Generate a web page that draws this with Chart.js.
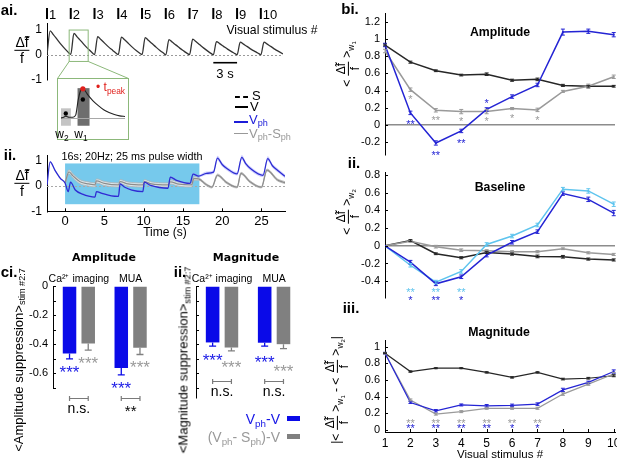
<!DOCTYPE html>
<html>
<head>
<meta charset="utf-8">
<script src="https://cdn.jsdelivr.net/npm/chart.js@4.4.1/dist/chart.umd.min.js"></script>
<style>
  body { margin: 0; background: #fff; }
  #fig { position: relative; width: 617px; height: 460px; overflow: hidden; font-family: 'Liberation Sans', Arial, sans-serif; color: #000; }
  #fig canvas { position: absolute; }
  .t { position: absolute; white-space: nowrap; line-height: 1; transform: translate(-50%, -50%); }
  .l { position: absolute; white-space: nowrap; line-height: 1; transform: translate(0, -50%); }
  .pl { font-weight: bold; font-size: 15px; }
  .ti { font-weight: bold; font-size: 12.3px; }
  .tc { font-family: 'DejaVu Sans', sans-serif; font-weight: bold; font-size: 11px; }
  sub { font-size: 70%; vertical-align: -0.3em; line-height: 0; }
  .frac { display: inline-flex; flex-direction: column; align-items: center; vertical-align: middle; line-height: 1.05; margin: 0 1px; }
  .frac > span:first-child { border-bottom: 1px solid #000; padding: 0 1px; }
  .ln { position: absolute; height: 0; }
  .box { position: absolute; }
</style>
</head>
<body>
<div id="fig">
  <canvas id="cAi" width="340" height="92" style="left:0;top:0"></canvas>
  <canvas id="cInset" width="72" height="62" style="left:57px;top:78px"></canvas>
  <canvas id="cAii" width="300" height="100" style="left:0;top:140px"></canvas>
  <canvas id="cCi" width="170" height="160" style="left:0;top:268px"></canvas>
  <canvas id="cCii" width="165" height="160" style="left:150px;top:268px"></canvas>
  <canvas id="cBi" width="290" height="167" style="left:340px;top:0"></canvas>
  <canvas id="cBii" width="290" height="150" style="left:340px;top:160px"></canvas>
  <canvas id="cBiii" width="290" height="155" style="left:340px;top:305px"></canvas>

  <!-- panel letters -->
  <div class="t pl" style="left:9px;top:9px">ai.</div>
  <div class="t pl" style="left:10px;top:154px">ii.</div>
  <div class="t pl" style="left:9px;top:271px">ci.</div>
  <div class="t pl" style="left:180px;top:271px">ii.</div>
  <div class="t pl" style="left:350px;top:8px">bi.</div>
  <div class="t pl" style="left:354px;top:162px">ii.</div>
  <div class="t pl" style="left:351px;top:307px">iii.</div>

  <!-- a -->
  <div class="t" style="left:22px;top:50px;font-size:14px"><span class="frac"><span>&#916;&#771;f</span><span>f</span></span></div>
  <div class="t" style="left:22px;top:183px;font-size:14px"><span class="frac"><span>&#916;&#771;f</span><span>f</span></span></div>
  <div class="t" style="left:272px;top:30px;font-size:12.2px">Visual stimulus #</div>
  <div class="t" style="left:225px;top:73px;font-size:13px">3 s</div>
  <div class="t" style="left:62px;top:134px;font-size:12px">w<sub>2</sub></div>
  <div class="t" style="left:81px;top:134px;font-size:12px">w<sub>1</sub></div>
  <div class="l" style="left:96px;top:87px;font-size:12px;color:#e0201c">&bull; t<sub>peak</sub></div>

  <div class="ln" style="left:235px;top:96px;width:13px;border-top:2px dashed #000"></div>
  <div class="l" style="left:252px;top:95px;font-size:13px">S</div>
  <div class="ln" style="left:235px;top:106px;width:13px;border-top:2px solid #000"></div>
  <div class="l" style="left:250px;top:106px;font-size:13px">V</div>
  <div class="ln" style="left:234px;top:121px;width:14px;border-top:2px solid #1c1cd8"></div>
  <div class="l" style="left:249px;top:119px;font-size:13px;color:#1c1cd8">V<sub>ph</sub></div>
  <div class="ln" style="left:234px;top:133px;width:14px;border-top:1.5px solid #999"></div>
  <div class="l" style="left:249px;top:133px;font-size:13px;color:#999">V<sub>ph</sub>-S<sub>ph</sub></div>

  <div class="t" style="left:132px;top:156px;font-size:10.8px">16s; 20Hz; 25 ms pulse width</div>
  <div class="t" style="left:165px;top:232px;font-size:12px">Time (s)</div>

  <!-- c -->
  <div class="t tc" style="left:104px;top:257px">Amplitude</div>
  <div class="t tc" style="left:246px;top:257px">Magnitude</div>
  <div class="t" style="left:18px;top:360px;font-size:13px;transform:translate(-50%,-50%) rotate(-90deg)">&lt;Amplitude suppression&gt;<sub>stim #2:7</sub></div>
  <div class="t" style="left:183px;top:360px;font-size:13px;transform:translate(-50%,-50%) rotate(-90deg)">&lt;Magnitude suppression&gt;<sub>stim #2:7</sub></div>
  <div class="l" style="right:337px;top:419px;font-size:14px;color:#1515e6">V<sub>ph</sub>-V</div>
  <div class="box" style="left:287px;top:416px;width:13px;height:5px;background:#0a0ae8"></div>
  <div class="l" style="right:337px;top:437px;font-size:14px;color:#999">(V<sub>ph</sub>- S<sub>ph</sub>)-V</div>
  <div class="box" style="left:287px;top:434px;width:13px;height:5px;background:#808080"></div>

  <!-- b -->
  <div class="t ti" style="left:500px;top:32px">Amplitude</div>
  <div class="t ti" style="left:500px;top:187px">Baseline</div>
  <div class="t ti" style="left:499px;top:332px">Magnitude</div>
  <div class="t" style="left:348px;top:64px;font-size:12px;transform:translate(-50%,-50%) rotate(-90deg)">&lt; <span class="frac"><span>&#916;&#771;f</span><span>f</span></span> &gt;<sub>w<sub>1</sub></sub></div>
  <div class="t" style="left:348px;top:212px;font-size:12px;transform:translate(-50%,-50%) rotate(-90deg)">&lt; <span class="frac"><span>&#916;&#771;f</span><span>f</span></span> &gt;<sub>w<sub>2</sub></sub></div>
  <div class="t" style="left:337px;top:390px;font-size:12px;transform:translate(-50%,-50%) rotate(-90deg)">|&lt; <span class="frac"><span>&#916;&#771;f</span><span>f</span></span> &gt;<sub>w<sub>1</sub></sub> - &lt; <span class="frac"><span>&#916;&#771;f</span><span>f</span></span> &gt;<sub>w<sub>2</sub></sub>|</div>
  <div class="t" style="left:500px;top:455px;font-size:11.5px">Visual stimulus #</div>
</div>

<script>
// ---- data: visual stimulus responses (b panels) ----
const stimNo = [1, 2, 3, 4, 5, 6, 7, 8, 9, 10];

const ampV       = [0.93, 0.73, 0.63, 0.58, 0.59, 0.52, 0.53, 0.46, 0.45, 0.45];
const ampVErr    = [0.01, 0.012, 0.01, 0.01, 0.015, 0.012, 0.015, 0.012, 0.01, 0.01];
const ampVph     = [0.93, 0.14, -0.21, -0.07, 0.18, 0.33, 0.465, 1.08, 1.09, 1.05];
const ampVphErr  = [0.02, 0.02, 0.025, 0.02, 0.02, 0.02, 0.02, 0.035, 0.025, 0.025];
const ampDiff    = [0.86, 0.41, 0.17, 0.155, 0.155, 0.19, 0.175, 0.39, 0.45, 0.56];
const ampDiffErr = [0.02, 0.02, 0.02, 0.025, 0.025, 0.012, 0.02, 0.012, 0.025, 0.02];
const ampVphStars  = ['', '**', '**', '**', '*', '', '', '', '', ''];
const ampDiffStars = ['', '*', '**', '*', '*', '*', '*', '', '', ''];

const baseV        = [0, 0.06, -0.09, -0.135, -0.075, -0.094, -0.12, -0.124, -0.15, -0.16];
const baseVErr     = [0, 0.01, 0.01, 0.012, 0.012, 0.012, 0.015, 0.015, 0.012, 0.012];
const baseDiff     = [0, 0.05, -0.01, -0.05, -0.056, -0.067, -0.067, -0.033, -0.079, -0.098];
const baseDiffErr  = [0, 0.01, 0.015, 0.015, 0.012, 0.012, 0.012, 0.01, 0.012, 0.012];
const baseVph      = [0, -0.185, -0.43, -0.35, -0.105, 0.04, 0.16, 0.59, 0.525, 0.37];
const baseVphErr   = [0, 0.02, 0.02, 0.02, 0.02, 0.02, 0.02, 0.02, 0.025, 0.03];
const baseVphL     = [0, -0.22, -0.41, -0.29, 0.015, 0.11, 0.235, 0.64, 0.62, 0.47];
const baseVphLErr  = [0, 0.02, 0.02, 0.02, 0.02, 0.02, 0.02, 0.02, 0.025, 0.025];
const baseVphStars  = ['', '*', '**', '*', '', '', '', '', '', ''];
const baseVphLStars = ['', '**', '**', '**', '', '', '', '', '', ''];

const magV        = [0.92, 0.70, 0.74, 0.74, 0.69, 0.63, 0.69, 0.61, 0.62, 0.65];
const magVErr     = [0.005, 0.008, 0.006, 0.006, 0.008, 0.008, 0.008, 0.01, 0.01, 0.012];
const magVph      = [0.92, 0.33, 0.23, 0.30, 0.29, 0.295, 0.31, 0.48, 0.57, 0.70];
const magVphErr   = [0.01, 0.012, 0.015, 0.012, 0.015, 0.015, 0.015, 0.02, 0.015, 0.02];
const magDiff     = [0.92, 0.36, 0.19, 0.22, 0.26, 0.26, 0.26, 0.43, 0.55, 0.67];
const magDiffErr  = [0.01, 0.012, 0.012, 0.012, 0.012, 0.012, 0.012, 0.015, 0.015, 0.02];
const magVphStars  = ['', '**', '**', '**', '**', '*', '*', '', '', ''];
const magDiffStars = ['', '**', '**', '**', '**', '**', '**', '', '', ''];

const biTicks   = [-0.2, 0, 0.2, 0.4, 0.6, 0.8, 1, 1.2];
const biiTicks  = [-0.4, -0.2, 0, 0.2, 0.4, 0.6, 0.8];
const biiiTicks = [0, 0.2, 0.4, 0.6, 0.8, 1];

// ---- data: suppression bars (c panels) ----
const barGroups     = ['Ca\u00B2\u207A imaging', 'MUA'];
const ampSupVph     = [-0.464, -0.563];
const ampSupVphErr  = [0.036, 0.047];
const ampSupDiff    = [-0.395, -0.423];
const ampSupDiffErr = [0.045, 0.047];
const magSupVph     = [-0.388, -0.39];
const magSupVphErr  = [0.026, 0.024];
const magSupDiff    = [-0.423, -0.40];
const magSupDiffErr = [0.023, 0.03];
const barStars = ['***', '***'];
const ampSig   = ['n.s.', '**'];
const magSig   = ['n.s.', 'n.s.'];
const cTicks   = [0, -0.1, -0.2, -0.3, -0.4, -0.5, -0.6, -0.7];
const cLabels  = [0, -0.2, -0.4, -0.6];

// ---- data: example traces (a panels) ----
const stimTimes = [0, 3, 6, 9, 12, 15, 18, 21, 24, 27];
const aTicks = [-1, 0, 1];
const aiTrace = [
  [0, 0.00], [0.4, 0.95], [0.8, 0.80], [1.3, 0.60], [1.8, 0.40], [2.3, 0.22], [2.8, 0.06],
  [3, 0.01], [3.4, 0.85], [3.8, 0.71], [4.3, 0.54], [4.8, 0.36], [5.3, 0.20], [5.8, 0.05],
  [6, 0.00], [6.4, 0.72], [6.8, 0.60], [7.3, 0.45], [7.8, 0.30], [8.3, 0.17], [8.8, 0.04],
  [9, 0.00], [9.4, 0.70], [9.8, 0.59], [10.3, 0.44], [10.8, 0.29], [11.3, 0.16], [11.8, 0.04],
  [12, 0.00], [12.4, 0.68], [12.8, 0.57], [13.3, 0.43], [13.8, 0.29], [14.3, 0.16], [14.8, 0.04],
  [15, -0.01], [15.4, 0.60], [15.8, 0.50], [16.3, 0.38], [16.8, 0.25], [17.3, 0.14], [17.8, 0.03],
  [18, 0.00], [18.4, 0.62], [18.8, 0.52], [19.3, 0.39], [19.8, 0.26], [20.3, 0.14], [20.8, 0.03],
  [21, -0.01], [21.4, 0.52], [21.8, 0.44], [22.3, 0.33], [22.8, 0.22], [23.3, 0.12], [23.8, 0.03],
  [24, -0.01], [24.4, 0.50], [24.8, 0.42], [25.3, 0.32], [25.8, 0.21], [26.3, 0.12], [26.8, 0.03],
  [27, -0.01], [27.4, 0.50], [27.8, 0.42], [28.3, 0.32], [28.8, 0.21], [29.3, 0.12], [29.8, 0.03]
];
const scaleBar = [21, 24, -0.32];            // t0, t1 (s), level
const zoomBox = { t: [2.8, 5.2], v: [-0.27, 0.98] };

const insetTrace = [
  [0, 0.0], [0.1, 0.02], [0.18, 0.05], [0.3, 0.02], [0.45, 0.02], [0.55, 0.08], [0.65, 0.55],
  [0.75, 0.82], [0.82, 0.85], [0.9, 0.80], [1.0, 0.68], [1.2, 0.50], [1.4, 0.36], [1.6, 0.24],
  [1.8, 0.16], [2.0, 0.10], [2.2, 0.06], [2.4, 0.04]
];
const insetWindows = [{ t: [0, 0.37], v: [-0.23, 0.28] }, { t: [0.62, 1.07], v: [-0.23, 0.87] }];
const insetMeans = [[0.18, 0.13], [0.82, 0.54]];
const insetPeak = [[0.82, 0.85]];

const optoWindow = [0, 17.1];
const optoRange = [-0.72, 0.89];
const aiiTimeTicks = [0, 5, 10, 15, 20, 25];
const blueTrace = [
  [-2.3, 0.04], [-1.9, 0.95], [-1.3, 0.63], [-0.6, 0.30], [0, 0.12], [0.4, -0.22], [0.7, 0.15],
  [1.3, -0.16], [2.3, -0.33], [3.0, -0.40], [3.8, -0.44], [4.0, -0.22], [4.7, -0.29], [5.9, -0.39],
  [6.8, -0.41], [7.0, 0.08], [7.6, -0.05], [8.5, -0.16], [9.9, -0.22], [10.1, 0.15], [10.9, 0.02],
  [12.0, -0.06], [13.1, -0.09], [13.4, 0.35], [14.2, 0.22], [15.9, 0.10], [16.3, 0.47], [17.0, 0.39],
  [18.0, 0.50], [18.9, 0.55], [19.4, 1.10], [20.0, 0.85], [20.6, 0.69], [21.9, 0.48], [22.5, 1.13],
  [23.0, 0.88], [23.6, 0.69], [25.2, 0.42], [25.8, 1.08], [26.4, 0.80], [27.0, 0.63], [28.0, 0.38]
];
const blueSem = [
  0.03, 0.05, 0.04, 0.03, 0.03, 0.03, 0.03, 0.03, 0.03, 0.03, 0.03, 0.03, 0.03, 0.03,
  0.03, 0.03, 0.03, 0.03, 0.03, 0.03, 0.03, 0.03, 0.03, 0.04, 0.04, 0.04, 0.05, 0.05,
  0.07, 0.07, 0.09, 0.08, 0.08, 0.07, 0.09, 0.08, 0.08, 0.07, 0.09, 0.08, 0.08, 0.07
];
const grayTrace = [
  [0, 0.12], [0.5, 0.56], [1.0, 0.40], [1.9, 0.17], [3.0, 0.08], [3.8, 0.04], [4.0, 0.20], [5.0, 0.10],
  [6.8, 0.04], [7.0, 0.17], [8.0, 0.08], [9.9, 0.04], [10.1, 0.17], [11.0, 0.08], [13.1, 0.04],
  [13.4, 0.16], [14.5, 0.07], [16.1, 0.04], [16.4, 0.30], [17.0, 0.28], [18.0, 0.05], [18.7, -0.05],
  [19.4, 0.43], [20.5, 0.15], [21.9, -0.05], [22.4, 0.50], [23.5, 0.18], [25.0, -0.05], [25.7, 0.63],
  [27.0, 0.25], [28.0, 0.13]
];
const graySem = [
  0.06, 0.08, 0.08, 0.08, 0.08, 0.08, 0.08, 0.08, 0.08, 0.08, 0.08, 0.08, 0.08, 0.08, 0.08,
  0.08, 0.08, 0.08, 0.07, 0.05, 0.04, 0.03, 0.04, 0.04, 0.03, 0.04, 0.04, 0.03, 0.04, 0.04, 0.04
];

// ---- styling ----
const fontFam = "'Liberation Sans', Arial, sans-serif";
const BLUE = '#2424d4', GRAY = '#9a9a9a', BLACK = '#262626', CYAN = '#5ec4ee';
const windowColors = ['#c4c4c4', '#6e6e6e'];
Chart.defaults.font.family = fontFam;
Chart.defaults.color = '#000';
Chart.defaults.animation = false;
Chart.defaults.plugins.legend.display = false;
Chart.defaults.plugins.tooltip.enabled = false;

const fmt = v => String(Math.round(v * 10) / 10);
const xy = arr => arr.map(([x, y]) => ({ x, y }));

function drawStar(ctx, text, x, yc, size, color) {
  ctx.save();
  ctx.font = size + 'px ' + fontFam;
  ctx.fillStyle = color;
  ctx.textAlign = 'center';
  ctx.textBaseline = 'alphabetic';
  ctx.fillText(text, x, yc + 0.57 * size);
  ctx.restore();
}

function yAxis(min, max, ticks, width, o = {}) {
  return {
    type: 'linear', min, max,
    afterBuildTicks: s => { s.ticks = ticks.map(v => ({ value: v })); },
    afterFit: s => { s.width = width; },
    border: { display: true, color: '#000', width: 1 },
    grid: {
      drawTicks: false,
      drawOnChartArea: !!o.zero,
      color: c => (c.tick && c.tick.value === 0) ? '#8c8c8c' : 'rgba(0,0,0,0)',
      lineWidth: 1.5
    },
    ticks: {
      display: o.labels !== false,
      autoSkip: false,
      padding: 5,
      font: { size: o.size || 11 },
      color: '#000',
      callback: v => (!o.show || o.show.includes(v)) ? fmt(v) : ''
    }
  };
}

// inward (matlab style) tick marks
const inTicks = {
  id: 'inTicks',
  afterDraw(chart, args, o) {
    if (!o || !o.len) return;
    const { ctx, chartArea: ca } = chart;
    ctx.save();
    ctx.strokeStyle = '#000';
    ctx.lineWidth = 1;
    if (o.y) chart.scales.y.ticks.forEach(t => {
      const p = Math.round(chart.scales.y.getPixelForValue(t.value)) + 0.5;
      ctx.beginPath(); ctx.moveTo(ca.left, p); ctx.lineTo(ca.left + o.len, p); ctx.stroke();
    });
    if (o.x) chart.scales.x.ticks.forEach(t => {
      const p = Math.round(chart.scales.x.getPixelForValue(t.value)) + 0.5;
      ctx.beginPath(); ctx.moveTo(p, ca.bottom); ctx.lineTo(p, ca.bottom - o.len); ctx.stroke();
    });
    ctx.restore();
  }
};

// error bars + significance stars on line series
const pointMarks = {
  id: 'pointMarks',
  afterDatasetsDraw(chart) {
    const { ctx, chartArea: ca } = chart;
    const ys = chart.scales.y;
    chart.data.datasets.forEach((ds, di) => {
      const pts = chart.getDatasetMeta(di).data;
      ctx.save();
      ctx.strokeStyle = ds.borderColor;
      ctx.lineWidth = 1;
      pts.forEach((p, i) => {
        const v = ds.data[i].y;
        if (ds.errs && ds.errs[i]) {
          const a = ys.getPixelForValue(v + ds.errs[i]);
          const b = ys.getPixelForValue(v - ds.errs[i]);
          ctx.beginPath();
          ctx.moveTo(p.x, a); ctx.lineTo(p.x, b);
          ctx.moveTo(p.x - 2, a); ctx.lineTo(p.x + 2, a);
          ctx.moveTo(p.x - 2, b); ctx.lineTo(p.x + 2, b);
          ctx.stroke();
        }
        const s = ds.stars && ds.stars[i];
        if (s) {
          const y = ds.starRow != null ? ca.bottom + ds.starRow : p.y + ds.starDy[i];
          drawStar(ctx, s, p.x, y, 11, ds.starColor || ds.borderColor);
        }
      });
      ctx.restore();
    });
  }
};

function series(vals, errs, color, extra = {}) {
  return Object.assign({
    data: stimNo.map((s, i) => ({ x: s, y: vals[i] })),
    errs,
    borderColor: color,
    backgroundColor: color,
    borderWidth: 1.5,
    pointRadius: 1.3,
    pointStyle: 'rect',
    pointBorderWidth: 0,
    tension: 0
  }, extra);
}

function bChart(id, datasets, yMin, yMax, ticks, pad, showX) {
  const x = showX ? {
    type: 'linear', min: 1, max: 10.05, position: 'bottom',
    afterBuildTicks: s => { s.ticks = stimNo.map(v => ({ value: v })); },
    afterFit: s => { s.height = 28; },
    border: { display: true, color: '#000' },
    grid: { drawTicks: false, drawOnChartArea: false },
    ticks: { padding: 4, font: { size: 12 }, color: '#000', maxRotation: 0, autoSkip: false, callback: v => String(v) }
  } : { type: 'linear', min: 1, max: 10.05, display: false };
  return new Chart(document.getElementById(id), {
    type: 'line',
    data: { datasets },
    options: {
      responsive: false,
      layout: { padding: pad },
      scales: { x, y: yAxis(yMin, yMax, ticks, 45, { zero: !showX }) },
      plugins: { inTicks: { len: 3, y: true, x: showX } }
    },
    plugins: [inTicks, pointMarks]
  });
}

// ---- bi / bii / biii ----
bChart('cBi', [
  series(ampVph, ampVphErr, BLUE, { stars: ampVphStars, starDy: [0, 9, 10, 10, -9, 0, 0, 0, 0, 0] }),
  series(ampDiff, ampDiffErr, GRAY, { stars: ampDiffStars, starDy: Array(10).fill(7.5) }),
  series(ampV, ampVErr, BLACK)
], -0.35, 1.3, biTicks, { top: 13.2, bottom: 12, left: 0, right: 15 }, false);

bChart('cBii', [
  series(baseVph, baseVphErr, BLUE, { stars: baseVphStars, starRow: 0 }),
  series(baseVphL, baseVphLErr, CYAN, { stars: baseVphLStars, starRow: -8 }),
  series(baseDiff, baseDiffErr, GRAY),
  series(baseV, baseVErr, BLACK)
], -0.59, 0.834, biiTicks, { top: 12, bottom: 12, left: 0, right: 15 }, false);

bChart('cBiii', [
  series(magVph, magVphErr, BLUE, { stars: magVphStars, starRow: -6, borderWidth: 1.2 }),
  series(magDiff, magDiffErr, GRAY, { stars: magDiffStars, starRow: -11.5, borderWidth: 1.2 }),
  series(magV, magVErr, BLACK, { borderWidth: 1.2 })
], -0.024, 1.078, biiiTicks, { top: 35, bottom: 0, left: 0, right: 15 }, true);

// ---- ci / cii bars ----
const barMarks = {
  id: 'barMarks',
  afterDatasetsDraw(chart, args, o) {
    const { ctx } = chart;
    const ys = chart.scales.y;
    chart.data.datasets.forEach((ds, di) => {
      chart.getDatasetMeta(di).data.forEach((bar, i) => {
        const yBar = ys.getPixelForValue(ds.data[i]);
        const yEnd = ys.getPixelForValue(ds.data[i] - ds.errs[i]);
        ctx.save();
        ctx.strokeStyle = ds.backgroundColor;
        ctx.lineWidth = 1.3;
        ctx.beginPath();
        ctx.moveTo(bar.x, yBar); ctx.lineTo(bar.x, yEnd);
        ctx.moveTo(bar.x - 3.5, yEnd); ctx.lineTo(bar.x + 3.5, yEnd);
        ctx.stroke();
        ctx.restore();
        drawStar(ctx, ds.stars[i], bar.x, yEnd + ds.starDy[i], 17, ds.starColor);
      });
    });
    const yb = Math.round(ys.getPixelForValue(o.bracketV)) + 0.5;
    o.sig.forEach((s, i) => {
      const a = chart.getDatasetMeta(0).data[i].x;
      const b = chart.getDatasetMeta(1).data[i].x;
      ctx.save();
      ctx.strokeStyle = '#7a7a7a';
      ctx.lineWidth = 1.2;
      ctx.beginPath();
      ctx.moveTo(a, yb); ctx.lineTo(b, yb);
      ctx.moveTo(a, yb - 2.5); ctx.lineTo(a, yb + 2.5);
      ctx.moveTo(b, yb - 2.5); ctx.lineTo(b, yb + 2.5);
      ctx.stroke();
      ctx.restore();
      if (s === 'n.s.') {
        ctx.save();
        ctx.font = '14px ' + fontFam;
        ctx.fillStyle = '#000';
        ctx.textAlign = 'center';
        ctx.textBaseline = 'middle';
        ctx.fillText(s, (a + b) / 2, yb + 11);
        ctx.restore();
      } else {
        drawStar(ctx, s, (a + b) / 2, yb + 9, 15, '#000');
      }
    });
  }
};

function cChart(id, vph, vphErr, diff, diffErr, yMin, yWidth, showLabels, pad, sig, bracketV, dyBlue, dyGray) {
  return new Chart(document.getElementById(id), {
    type: 'bar',
    data: {
      labels: barGroups,
      datasets: [
        { data: vph, errs: vphErr, backgroundColor: '#0a0ae8', stars: barStars, starDy: dyBlue, starColor: '#1a1ae6',
          categoryPercentage: 0.7227, barPercentage: 0.722 },
        { data: diff, errs: diffErr, backgroundColor: '#808080', stars: barStars, starDy: dyGray, starColor: '#9a9a9a',
          categoryPercentage: 0.7227, barPercentage: 0.722 }
      ]
    },
    options: {
      responsive: false,
      layout: { padding: pad },
      scales: {
        x: {
          type: 'category', position: 'top',
          afterFit: s => { s.height = 18; },
          grid: { display: false, drawTicks: false },
          border: { display: false },
          ticks: { padding: 1, font: { size: 10.5 }, color: '#000', maxRotation: 0, autoSkip: false }
        },
        y: yAxis(yMin, 0, cTicks, yWidth, { labels: showLabels, show: cLabels, size: 11 })
      },
      plugins: { inTicks: { len: 3, y: true }, barMarks: { sig, bracketV } }
    },
    plugins: [inTicks, barMarks]
  });
}

cChart('cCi', ampSupVph, ampSupVphErr, ampSupDiff, ampSupDiffErr, -0.7, 53, true,
  { top: 0, bottom: 40, left: 0, right: 13.5 }, ampSig, -0.77, [9.5, 9.5], [9, 9]);
cChart('cCii', magSupVph, magSupVphErr, magSupDiff, magSupDiffErr, -0.77, 46, false,
  { top: 0, bottom: 30, left: 0, right: 14.9 }, magSig, -0.65, [10, 12], [12, 19]);

// ---- ai trace ----
const aiDecor = {
  id: 'aiDecor',
  beforeDatasetsDraw(chart) {
    const { ctx, chartArea: ca, scales: { y } } = chart;
    const y0 = Math.round(y.getPixelForValue(0)) + 0.5;
    ctx.save();
    ctx.strokeStyle = '#9a9a9a';
    ctx.setLineDash([2, 2]);
    ctx.beginPath(); ctx.moveTo(ca.left, y0); ctx.lineTo(ca.right, y0); ctx.stroke();
    ctx.restore();
  },
  afterDraw(chart) {
    const { ctx, scales: { x, y } } = chart;
    ctx.save();
    ctx.fillStyle = '#000';
    ctx.font = '13px ' + fontFam;
    ctx.textBaseline = 'alphabetic';
    stimTimes.forEach((t, i) => {
      const px = x.getPixelForValue(t);
      ctx.fillRect(px - 1, 8, 2, 11);
      ctx.fillText(String(stimNo[i]), px + 2, 18.5);
    });
    ctx.strokeStyle = '#000';
    ctx.lineWidth = 1.6;
    const sy = y.getPixelForValue(scaleBar[2]);
    ctx.beginPath(); ctx.moveTo(x.getPixelForValue(scaleBar[0]), sy); ctx.lineTo(x.getPixelForValue(scaleBar[1]), sy); ctx.stroke();
    const bx0 = x.getPixelForValue(zoomBox.t[0]), bx1 = x.getPixelForValue(zoomBox.t[1]);
    const by0 = y.getPixelForValue(zoomBox.v[1]), by1 = y.getPixelForValue(zoomBox.v[0]);
    ctx.strokeStyle = '#8cb87a';
    ctx.lineWidth = 1;
    ctx.strokeRect(bx0, by0, bx1 - bx0, by1 - by0);
    ctx.beginPath();
    ctx.moveTo(bx0, by1); ctx.lineTo(57.5, 78.5);
    ctx.moveTo(bx1, by1); ctx.lineTo(128.5, 78.5);
    ctx.stroke();
    ctx.restore();
  }
};

new Chart(document.getElementById('cAi'), {
  type: 'line',
  data: { datasets: [{ data: xy(aiTrace), borderColor: '#333', borderWidth: 1.3, pointRadius: 0, cubicInterpolationMode: 'monotone' }] },
  options: {
    responsive: false,
    layout: { padding: { top: 23, bottom: 11.6, left: 0, right: 57 } },
    scales: {
      x: { type: 'linear', min: 0, max: 29.8, display: false },
      y: yAxis(-1, 1.26, aTicks, 47, { size: 12 })
    }
  },
  plugins: [aiDecor]
});

// ---- inset ----
const insetDecor = {
  id: 'insetDecor',
  beforeDatasetsDraw(chart) {
    const { ctx, chartArea: ca, scales: { x, y } } = chart;
    ctx.save();
    insetWindows.forEach((w, i) => {
      ctx.fillStyle = windowColors[i];
      const x0 = x.getPixelForValue(w.t[0]), x1 = x.getPixelForValue(w.t[1]);
      const y0 = y.getPixelForValue(w.v[1]), y1 = y.getPixelForValue(w.v[0]);
      ctx.fillRect(x0, y0, x1 - x0, y1 - y0);
    });
    const yz = Math.round(y.getPixelForValue(0)) + 0.5;
    ctx.strokeStyle = '#a8a8a8';
    ctx.lineWidth = 1;
    ctx.beginPath(); ctx.moveTo(ca.left, yz); ctx.lineTo(ca.right, yz); ctx.stroke();
    ctx.restore();
  },
  afterDraw(chart) {
    const { ctx, width, height } = chart;
    ctx.save();
    ctx.strokeStyle = '#8cb87a';
    ctx.lineWidth = 1;
    ctx.strokeRect(0.5, 0.5, width - 1, height - 1);
    ctx.restore();
  }
};

new Chart(document.getElementById('cInset'), {
  type: 'line',
  data: {
    datasets: [
      { data: xy(insetPeak), showLine: false, pointRadius: 2.6, pointBackgroundColor: '#e0201c', pointBorderWidth: 0 },
      { data: xy(insetMeans), showLine: false, pointRadius: 2.2, pointBackgroundColor: '#000', pointBorderWidth: 0 },
      { data: xy(insetTrace), borderColor: '#222', borderWidth: 1.1, pointRadius: 0, cubicInterpolationMode: 'monotone' }
    ]
  },
  options: {
    responsive: false,
    layout: { padding: 0 },
    scales: {
      x: { type: 'linear', min: 0, max: 2.4, display: false },
      y: { type: 'linear', min: -0.53, max: 1.05, display: false }
    }
  },
  plugins: [insetDecor]
});

// ---- aii trace ----
const aiiDecor = {
  id: 'aiiDecor',
  beforeDatasetsDraw(chart) {
    const { ctx, chartArea: ca, scales: { x, y } } = chart;
    ctx.save();
    ctx.fillStyle = '#76c9ec';
    const x0 = x.getPixelForValue(optoWindow[0]), x1 = x.getPixelForValue(optoWindow[1]);
    const y0 = y.getPixelForValue(optoRange[1]), y1 = y.getPixelForValue(optoRange[0]);
    ctx.fillRect(x0, y0, x1 - x0, y1 - y0);
    const yz = Math.round(y.getPixelForValue(0)) + 0.5;
    ctx.strokeStyle = '#a8a8a8';
    ctx.setLineDash([2, 2]);
    ctx.beginPath(); ctx.moveTo(ca.left, yz); ctx.lineTo(ca.right, yz); ctx.stroke();
    ctx.restore();
  }
};

const band = (trace, sem, sign) => trace.map(([t, v], i) => ({ x: t, y: v + sign * sem[i] }));
const traceStyle = { pointRadius: 0, cubicInterpolationMode: 'monotone' };

new Chart(document.getElementById('cAii'), {
  type: 'line',
  data: {
    datasets: [
      Object.assign({ data: xy(blueTrace), borderColor: '#2d2dd2', borderWidth: 1.3, fill: false }, traceStyle),
      Object.assign({ data: band(blueTrace, blueSem, 1), borderWidth: 0, borderColor: 'rgba(0,0,0,0)', fill: false }, traceStyle),
      Object.assign({ data: band(blueTrace, blueSem, -1), borderWidth: 0, borderColor: 'rgba(0,0,0,0)', fill: 1, backgroundColor: 'rgba(150,150,255,0.45)' }, traceStyle),
      Object.assign({ data: xy(grayTrace), borderColor: '#8c8c8c', borderWidth: 1.2, fill: false }, traceStyle),
      Object.assign({ data: band(grayTrace, graySem, 1), borderWidth: 0.8, borderColor: '#b4b4b4', fill: false }, traceStyle),
      Object.assign({ data: band(grayTrace, graySem, -1), borderWidth: 0.8, borderColor: '#b4b4b4', fill: 4, backgroundColor: 'rgba(238,238,238,0.85)' }, traceStyle)
    ]
  },
  options: {
    responsive: false,
    layout: { padding: { top: 15.1, bottom: 0, left: 0, right: 15 } },
    scales: {
      x: {
        type: 'linear', min: -2.3, max: 28,
        afterBuildTicks: s => { s.ticks = aiiTimeTicks.map(v => ({ value: v })); },
        afterFit: s => { s.height = 28.7; },
        border: { display: true, color: '#000' },
        grid: { drawTicks: false, drawOnChartArea: false },
        ticks: { padding: 2, font: { size: 13 }, color: '#000', maxRotation: 0, autoSkip: false }
      },
      y: yAxis(-1, 1.22, aTicks, 47, { size: 12 })
    },
    plugins: { inTicks: { len: 3, x: true } }
  },
  plugins: [aiiDecor, inTicks]
});
</script>
</body>
</html>
